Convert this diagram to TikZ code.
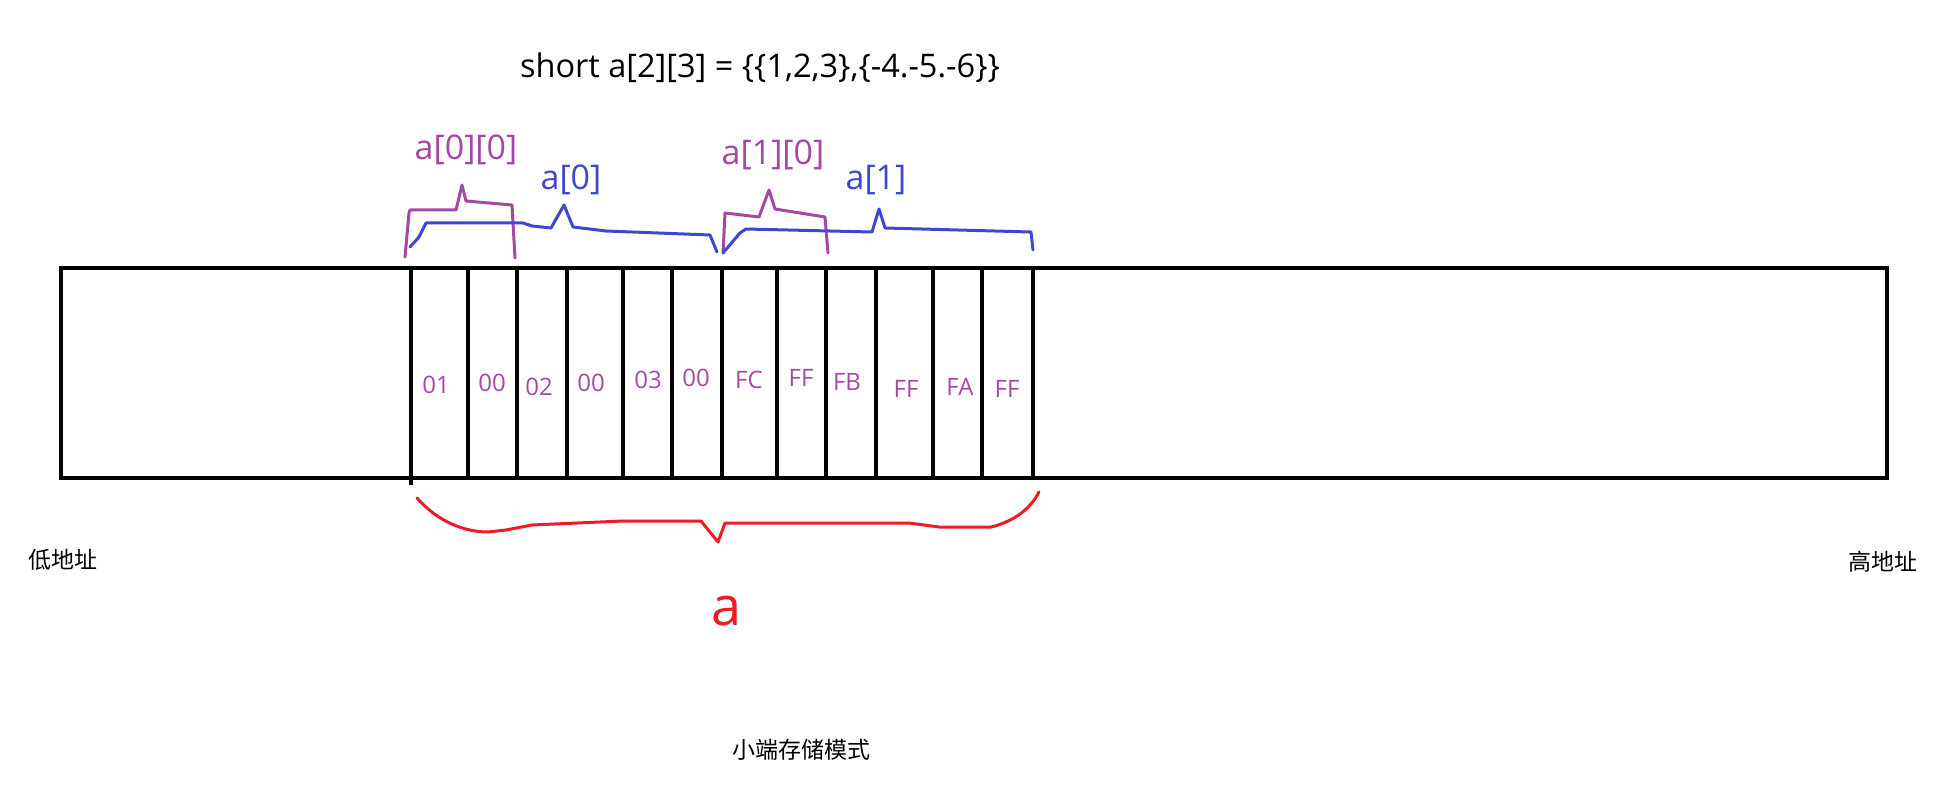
\documentclass[tikz,border=0pt]{standalone}
\usepackage{fontspec}
\setmainfont{Open Sans}
\newfontfamily\cjk{Noto Sans CJK SC}
\definecolor{mpurple}{RGB}{163,73,164}
\definecolor{mblue}{RGB}{63,72,204}
\definecolor{mred}{RGB}{237,28,36}
\begin{document}
\begin{tikzpicture}[x=1pt,y=-1pt,
  cellline/.style={line width=3.6pt},
  bytelbl/.style={text=mpurple,font=\fontsize{24}{28}\selectfont,inner sep=0pt},
  purplebr/.style={draw=mpurple,line width=3pt,line join=round,line cap=round},
  bluebr/.style={draw=mblue,line width=3pt,line join=round,line cap=round},
  redbr/.style={draw=mred,line width=3pt,line join=round,line cap=round},
  brlbl/.style={inner sep=0pt,font=\fontsize{34}{40}\selectfont},
  cjklbl/.style={font=\cjk\fontsize{23}{26}\selectfont,inner sep=0pt}]
\useasboundingbox (0,0) rectangle (1939,799);
% memory strip
\node[draw,cellline,minimum width=1826pt,minimum height=210pt,inner sep=0pt,anchor=north west] (mem) at (59,266) {};
\foreach \x in {411,468,517,567,623,672,722,777,826,876,933,982,1033}
  \draw[cellline] (\x,266) -- (\x,476);
\draw[cellline] (411,476) -- (411,485);
% byte labels
\node[bytelbl] (b1) at (436,385) {01};
\node[bytelbl] (b2) at (492,383) {00};
\node[bytelbl] (b3) at (539,387) {02};
\node[bytelbl] (b4) at (591,383) {00};
\node[bytelbl] (b5) at (648,380) {03};
\node[bytelbl] (b6) at (696,378) {00};
\node[bytelbl] (b7) at (749,380) {FC};
\node[bytelbl] (b8) at (801,378) {FF};
\node[bytelbl] (b9) at (847,382) {FB};
\node[bytelbl] (b10) at (906,389) {FF};
\node[bytelbl] (b11) at (960,387) {FA};
\node[bytelbl] (b12) at (1007,389) {FF};
% title
\node[inner sep=0pt,font=\fontsize{32.5}{38}\selectfont] (title) at (760,68) {short a[2][3] = \{\{1,2,3\},\{-4.-5.-6\}\}};
% brace labels
\node[brlbl,text=mpurple] (l00) at (466,150) {a[0][0]};
\node[brlbl,text=mblue] (l0) at (571,180) {a[0]};
\node[brlbl,text=mpurple] (l10) at (773,155) {a[1][0]};
\node[brlbl,text=mblue] (l1) at (876,180) {a[1]};
% brackets
\draw[purplebr] (405,257) -- (409,213) -- (410,210) -- (456,210) -- (462,185) -- (466,201) -- (512,205) -- (515,258);
\draw[bluebr] (410,247) -- (419,237) -- (426,223) -- (523,223) -- (532,226) -- (551,228) -- (564,205) -- (573,227) -- (606,231) -- (710,235) -- (717,252);
\draw[purplebr] (723,253) -- (725,213) -- (759,217) -- (769,190) -- (775,209) -- (825,217) -- (828,253);
\draw[bluebr] (723,253) -- (740,233) -- (746,229) -- (872,232) -- (879,209) -- (885,228) -- (1031,232) -- (1033,250);
% red brace
\draw[redbr] (417,498) .. controls (438,522) and (465,532) .. (488,532) -- (506,530) -- (532,525) -- (623,521) -- (701,521) -- (718,542) -- (725,523) -- (909,523) -- (939,527) -- (991,527) .. controls (1012,522) and (1030,510) .. (1039,492);
\node[inner sep=0pt,text=mred,font=\fontsize{54}{62}\selectfont] (la) at (727,611) {a};
% address labels
\node[cjklbl] (low) at (63,560) {低地址};
\node[cjklbl] (high) at (1883,562) {高地址};
\node[cjklbl] (mode) at (801,750) {小端存储模式};
\end{tikzpicture}
\end{document}
